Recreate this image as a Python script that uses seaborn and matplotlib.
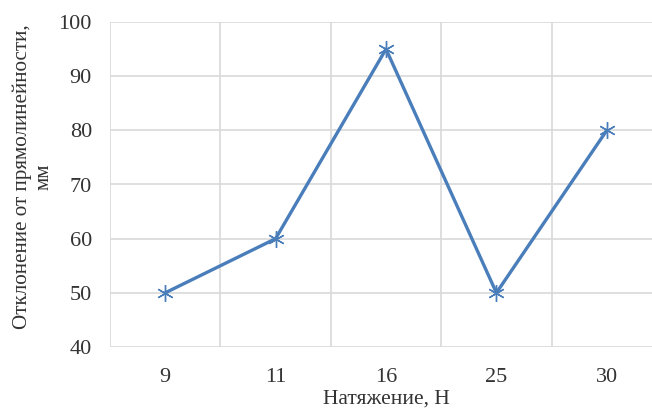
import numpy as np
import pandas as pd
import matplotlib
matplotlib.use("Agg")
import matplotlib.pyplot as plt
import seaborn as sns

# data
tension = ["9", "11", "16", "25", "30"]
deviation = [50, 60, 95, 50, 80]

y_ticks = [40, 50, 60, 70, 80, 90, 100]

LINE_COLOR = "#4A7EBB"
GRID_COLOR = "#D9D9D9"

sns.set_theme(style="white")
plt.rcParams["font.family"] = ["Liberation Serif", "DejaVu Serif"]

df = pd.DataFrame({"tension": tension, "deviation": deviation})
df["pos"] = np.arange(len(df))

fig = plt.figure(figsize=(6.52, 4.11), dpi=100)
# plot area runs slightly past the right edge of the picture, as in the reference
ax = fig.add_axes([110 / 652, 1 - 347 / 411, 552 / 652, 325 / 411])

sns.lineplot(data=df, x="pos", y="deviation", ax=ax, color=LINE_COLOR,
             linewidth=2.4, marker=(6, 2, 0), markersize=12,
             markeredgecolor=LINE_COLOR, markeredgewidth=1.0)

ax.set_xlim(-0.5, len(tension) - 0.5)
ax.set_ylim(40, 100)
ax.set_yticks(y_ticks)
ax.set_xticks(df["pos"])
ax.set_xticklabels(tension)

# excel-style grid: horizontal at each tick, vertical between categories
for y in y_ticks:
    ax.axhline(y, color=GRID_COLOR, linewidth=1.2, zorder=0)
for b in np.arange(-0.5, len(tension), 1.0):
    ax.axvline(b, color=GRID_COLOR, linewidth=1.2, zorder=0)

for side in ax.spines.values():
    side.set_visible(False)

ax.tick_params(axis="both", length=0, labelsize=16, colors="#333333")
ax.tick_params(axis="x", pad=15)
ax.tick_params(axis="y", pad=13)

ax.set_xlabel("Натяжение, Н", fontsize=15.5, color="#333333", labelpad=2)
ax.set_ylabel("Отклонение от прямолинейности,\nмм", fontsize=15.2,
              color="#333333", linespacing=1.2)
ax.yaxis.set_label_coords(-0.102, 0.525)

fig.savefig("out.png", dpi=100)
